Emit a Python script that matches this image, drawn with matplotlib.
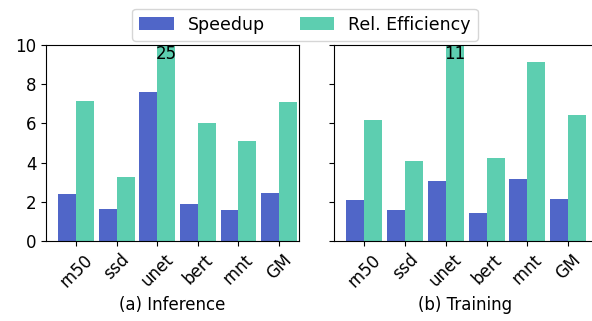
import matplotlib
matplotlib.use('Agg')
import matplotlib.pyplot as plt
import numpy as np

benchmarks = ['rn50', 'ssd', 'unet', 'bert', 'rnnt', 'GM']
inf_speedup = [2.39, 1.62, 7.6, 1.87, 1.57, 2.44]
inf_efficiency = [7.14, 3.25, 25, 6.01, 5.09, 7.09]
train_speedup = [2.08, 1.57, 3.05, 1.41, 3.15, 2.13]
train_efficiency = [6.17, 4.07, 11, 4.22, 9.13, 6.42]
titles = ['(a) Inference', '(b) Training']

blue = '#5066C8'
green = '#5DCEB0'
width = 0.44
ymax = 10
fs = 12

fig = plt.figure(figsize=(5.92, 3.21), dpi=100)
ax1 = fig.add_axes([46 / 592, 80 / 321, 253 / 592, 196 / 321])
ax2 = fig.add_axes([334 / 592, 80 / 321, 262 / 592, 196 / 321], sharey=ax1)

x = np.arange(len(benchmarks))
panels = [(ax1, inf_speedup, inf_efficiency), (ax2, train_speedup, train_efficiency)]
for k, (ax, spd, eff) in enumerate(panels):
    ax.bar(x - width / 2, spd, width, color=blue, label='Speedup')
    ax.bar(x + width / 2, eff, width, color=green, label='Rel. Efficiency')
    # annotate clipped bars
    for i, v in enumerate(eff):
        if v > ymax:
            ax.text(x[i] + width / 2, ymax, str(v), ha='center', va='top', fontsize=fs)
    ax.set_xticks(x)
    ax.set_xticklabels(benchmarks, rotation=45, fontsize=fs)
    ax.set_xlabel(titles[k], fontsize=fs)
    ax.set_ylim(0, ymax)
    ax.tick_params(axis='y', labelsize=fs)

ax1.set_xlim(-0.74, 5.49)
ax2.set_xlim(-0.74, 5.68)
ax1.set_yticks([0, 2, 4, 6, 8, 10])
plt.setp(ax2.get_yticklabels(), visible=False)

handles, labels = ax1.get_legend_handles_labels()
fig.legend(handles, labels, loc='upper center', bbox_to_anchor=(305 / 592, 1.0),
           ncol=2, fontsize=12.5)

fig.savefig('out.png', dpi=100)
